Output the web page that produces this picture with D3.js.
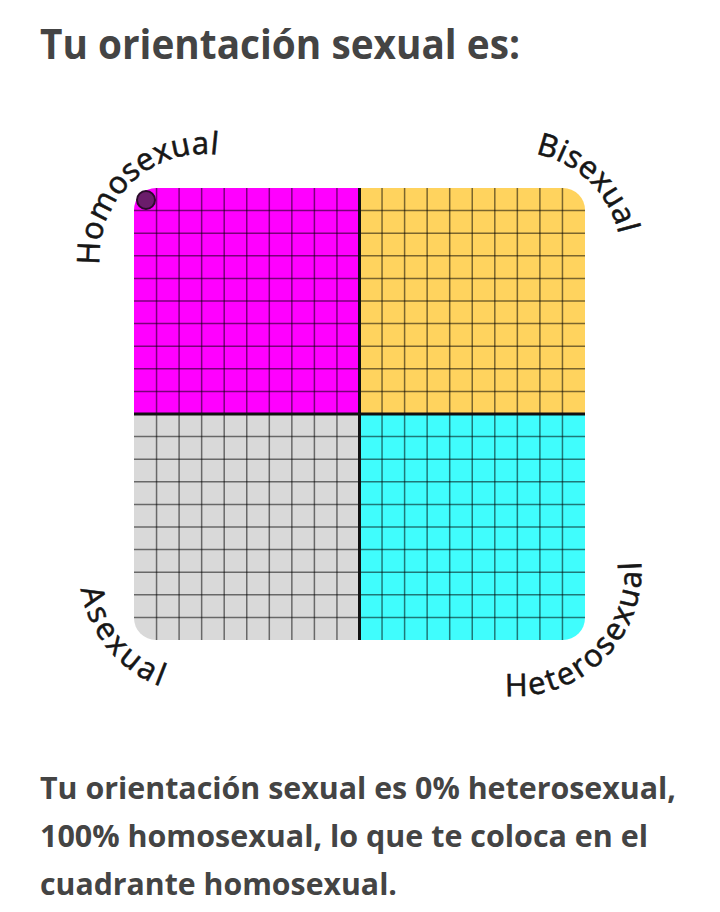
<!DOCTYPE html>
<html><head><meta charset="utf-8">
<script src="https://cdn.jsdelivr.net/npm/d3@7"></script>
<style>html,body{margin:0;padding:0;background:#fff}</style>
</head><body>
<svg id="c" width="720" height="912"></svg>
<script>
// ---- data ----
const titleText = "Tu orientación sexual es:";
const quadrantNames = ["Homosexual", "Bisexual", "Asexual", "Heterosexual"];
const quadrantCol = [0, 1, 0, 1];
const quadrantRow = [0, 0, 1, 1];
const quadrantColors = ["#ff00ff", "#ffd35e", "#d9d9d9", "#40fdfd"];
const heterosexualScore = [0];
const homosexualScore = [100];
const resultLines = [
  "Tu orientación sexual es 0% heterosexual,",
  "100% homosexual, lo que te coloca en el",
  "cuadrante homosexual."
];
const gridDivisions = 20;

// ---- layout ----
const svg = d3.select("#c");
svg.append("rect").attr("width", 720).attr("height", 912).attr("fill", "#fff");

const x = d3.scaleLinear().domain([0, gridDivisions]).range([134, 585]);
const y = d3.scaleLinear().domain([0, gridDivisions]).range([188, 640]);
const xPct = d3.scaleLinear().domain([0, 100]).range([x(0) + 12, x(gridDivisions) - 12]);
const yPct = d3.scaleLinear().domain([0, 100]).range([y(gridDivisions) - 12, y(0) + 12]);

const fontFam = "'Open Sans', 'Noto Sans', sans-serif";

svg.append("text").attr("x", 40).attr("y", 59)
  .attr("font-family", fontFam).attr("font-weight", 700).attr("font-size", 41)
  .attr("fill", "#444").attr("textLength", 480).attr("lengthAdjust", "spacingAndGlyphs")
  .text(titleText);

const defs = svg.append("defs");
defs.append("clipPath").attr("id", "rr").append("rect")
  .attr("x", x(0)).attr("y", y(0))
  .attr("width", x(gridDivisions) - x(0)).attr("height", y(gridDivisions) - y(0))
  .attr("rx", 22).attr("ry", 22);

const chart = svg.append("g").attr("clip-path", "url(#rr)");
const half = gridDivisions / 2;
chart.selectAll("rect.q").data(quadrantNames).join("rect").attr("class", "q")
  .attr("x", (d, i) => x(quadrantCol[i] * half))
  .attr("y", (d, i) => y(quadrantRow[i] * half))
  .attr("width", x(half) - x(0)).attr("height", y(half) - y(0))
  .attr("fill", (d, i) => quadrantColors[i]);

const ticks = d3.range(1, gridDivisions).filter(t => t !== half);
chart.selectAll("line.v").data(ticks).join("line").attr("class", "v")
  .attr("x1", d => x(d)).attr("x2", d => x(d)).attr("y1", y(0)).attr("y2", y(gridDivisions))
  .attr("stroke", "#000").attr("stroke-opacity", 0.52).attr("stroke-width", 1.5);
chart.selectAll("line.h").data(ticks).join("line").attr("class", "h")
  .attr("y1", d => y(d)).attr("y2", d => y(d)).attr("x1", x(0)).attr("x2", x(gridDivisions))
  .attr("stroke", "#000").attr("stroke-opacity", 0.52).attr("stroke-width", 1.5);
chart.append("line").attr("x1", x(half)).attr("x2", x(half)).attr("y1", y(0)).attr("y2", y(gridDivisions))
  .attr("stroke", "#111").attr("stroke-width", 3);
chart.append("line").attr("y1", y(half)).attr("y2", y(half)).attr("x1", x(0)).attr("x2", x(gridDivisions))
  .attr("stroke", "#111").attr("stroke-width", 3);

// curved labels
const cx0 = x(half), cy0 = y(half), off = 156;
const labelLayout = [
  { dx: -1, dy: -1, mid: 227, r: 104, outward: true, ls: 0.3 },
  { dx: 1, dy: -1, mid: 314, r: 106, outward: true, ls: 0.3 },
  { dx: -1, dy: 1, mid: 140, r: 124, outward: false, ls: 3.3 },
  { dx: 1, dy: 1, mid: 45, r: 126, outward: false, ls: 2.2 }
];
const rad = a => a * Math.PI / 180;
function arcPath(cx, cy, r, a0, a1, sweep) {
  const p0 = [cx + r * Math.cos(rad(a0)), cy + r * Math.sin(rad(a0))];
  const p1 = [cx + r * Math.cos(rad(a1)), cy + r * Math.sin(rad(a1))];
  return `M${p0[0]},${p0[1]}A${r},${r} 0 0 ${sweep} ${p1[0]},${p1[1]}`;
}
quadrantNames.forEach((name, i) => {
  const L = labelLayout[i];
  const cx = cx0 + L.dx * off, cy = cy0 + L.dy * off;
  const d = L.outward ? arcPath(cx, cy, L.r, L.mid - 85, L.mid + 85, 1)
                      : arcPath(cx, cy, L.r, L.mid + 85, L.mid - 85, 0);
  defs.append("path").attr("id", "lp" + i).attr("d", d);
  svg.append("text").attr("font-family", fontFam).attr("font-size", 31)
    .attr("fill", "#161616").attr("stroke", "#161616").attr("stroke-width", 0.6)
    .attr("letter-spacing", L.ls)
    .append("textPath").attr("href", "#lp" + i).attr("startOffset", "50%")
    .attr("text-anchor", "middle").text(name);
});

// result marker
svg.selectAll("circle.dot").data(heterosexualScore).join("circle").attr("class", "dot")
  .attr("cx", d => xPct(d)).attr("cy", (d, i) => yPct(homosexualScore[i]))
  .attr("r", 9).attr("fill", "#6b1d6b").attr("stroke", "#2a0a2a").attr("stroke-width", 2);

// result text
const lineLengths = [636, 608, 357];
svg.selectAll("text.res").data(resultLines).join("text").attr("class", "res")
  .attr("x", 40).attr("y", (d, i) => 799 + i * 48)
  .attr("font-family", fontFam).attr("font-weight", 700).attr("font-size", 30)
  .attr("fill", "#444").attr("textLength", (d, i) => lineLengths[i])
  .attr("lengthAdjust", "spacingAndGlyphs").text(d => d);
</script>
</body></html>
